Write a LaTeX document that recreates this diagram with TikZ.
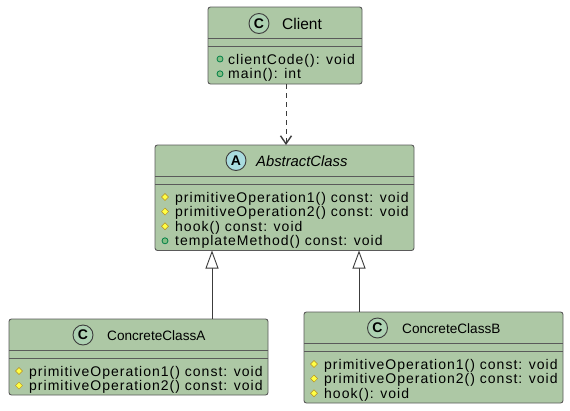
\documentclass[tikz,border=0pt]{standalone}
\usepackage{fontspec}
\setmainfont{Liberation Sans}
\newfontfamily\memfam[LetterSpace=7.2]{Liberation Sans}
\usetikzlibrary{arrows.meta}
\definecolor{boxfill}{RGB}{173,200,165}
\definecolor{boxline}{RGB}{90,90,90}
\definecolor{edgeline}{RGB}{60,60,60}
\definecolor{spotC}{RGB}{173,209,178}
\definecolor{spotA}{RGB}{169,220,223}
\definecolor{protfill}{RGB}{255,255,68}
\definecolor{protline}{RGB}{179,141,34}
\definecolor{publine}{RGB}{3,128,72}
\definecolor{pubfill}{RGB}{132,190,132}
\newcommand{\memfont}{\memfam\fontsize{14}{14}\selectfont}
\tikzset{
  classbox/.style={draw=boxline, fill=boxfill, line width=0.9pt, rounded corners=2.5pt,
    anchor=north west, inner sep=0pt, outer sep=0pt},
  divline/.style={draw=boxline, line width=0.9pt},
  spot/.style={circle, draw=edgeline, line width=0.9pt, minimum size=20pt, inner sep=0pt,
    font=\bfseries\fontsize{14}{14}\selectfont},
  member/.style={anchor=base west, inner sep=0pt, font=\memfont},
  titletext/.style={anchor=base west, inner sep=0pt},
  prot/.style={fill=protfill, draw=protline, line width=0.5pt},
  pub/.style={circle, fill=pubfill, draw=publine, line width=0.8pt, minimum size=6pt, inner sep=0pt},
  depend/.style={draw=edgeline, line width=0.9pt, dash pattern=on 5pt off 4pt,
    -{Straight Barb[length=8pt,width=11pt,line width=1.4pt]}},
  inherit/.style={draw=edgeline, line width=0.9pt,
    -{Triangle[length=18pt,width=13pt,fill=white,line width=0.9pt]}}
}
\newcommand{\iconprot}[2]{\path[prot] (#1-3.5,#2) -- (#1,#2-3.5) -- (#1+3.5,#2) -- (#1,#2+3.5) -- cycle;}
\begin{document}
\begin{tikzpicture}[x=1pt,y=-1pt]
\fill[white] (0,0) rectangle (570,410);
\useasboundingbox (0,0) rectangle (570,410);

% Client
\node[classbox, minimum width=154pt, minimum height=77pt] (client) at (208,7) {};
\draw[divline] (208,38) -- (362,38);
\draw[divline] (208,46) -- (362,46);
\node[spot, fill=spotC] (clientspot) at (259,23.5) {C};
\node[titletext, font=\fontsize{15.5}{15.5}\selectfont] (clientname) at (282,29.5) {Client};
\node[pub] (cm1i) at (220,59) {};
\node[member] (cm1) at (228,64) {clientCode(): void};
\node[pub] (cm2i) at (220,73.8) {};
\node[member] (cm2) at (228,78.8) {main(): int};

% AbstractClass
\node[classbox, minimum width=259pt, minimum height=105.5pt] (abs) at (155,145) {};
\draw[divline] (155,176) -- (414,176);
\draw[divline] (155,184) -- (414,184);
\node[spot, fill=spotA] (absspot) at (236,160.5) {A};
\node[titletext, font=\itshape\fontsize{14.8}{14.8}\selectfont] (absname) at (256,166.3) {AbstractClass};
\iconprot{165}{197}
\node[member] (am1) at (175,202) {primitiveOperation1() const: void};
\iconprot{165}{211.6}
\node[member] (am2) at (175,216.6) {primitiveOperation2() const: void};
\iconprot{165}{226.2}
\node[member] (am3) at (175,231.2) {hook() const: void};
\node[pub] (am4i) at (165,240.8) {};
\node[member] (am4) at (175,245.8) {templateMethod() const: void};

% ConcreteClassA
\node[classbox, minimum width=259pt, minimum height=76pt] (ca) at (9,319) {};
\draw[divline] (9,350) -- (268,350);
\draw[divline] (9,358) -- (268,358);
\node[spot, fill=spotC] (caspot) at (83,335) {C};
\node[titletext, font=\fontsize{13.6}{13.6}\selectfont] (caname) at (107,340.4) {ConcreteClassA};
\iconprot{19}{371}
\node[member] (cam1) at (29,376) {primitiveOperation1() const: void};
\iconprot{19}{385.6}
\node[member] (cam2) at (29,390.6) {primitiveOperation2() const: void};

% ConcreteClassB
\node[classbox, minimum width=259pt, minimum height=91pt] (cb) at (304,312) {};
\draw[divline] (304,343) -- (563,343);
\draw[divline] (304,351) -- (563,351);
\node[spot, fill=spotC] (cbspot) at (377.5,328) {C};
\node[titletext, font=\fontsize{13.6}{13.6}\selectfont] (cbname) at (402,333.4) {ConcreteClassB};
\iconprot{314}{364}
\node[member] (cbm1) at (324,369) {primitiveOperation1() const: void};
\iconprot{314}{378.6}
\node[member] (cbm2) at (324,383.6) {primitiveOperation2() const: void};
\iconprot{314}{393.2}
\node[member] (cbm3) at (324,398.2) {hook(): void};

% connectors
\coordinate (dx) at (286,0);
\coordinate (ax) at (212,0);
\coordinate (bx) at (359,0);
\draw[depend] (client.south -| dx) -- (abs.north -| dx);
\draw[inherit] (ca.north -| ax) -- (abs.south -| ax);
\draw[inherit] (cb.north -| bx) -- (abs.south -| bx);
\end{tikzpicture}
\end{document}
